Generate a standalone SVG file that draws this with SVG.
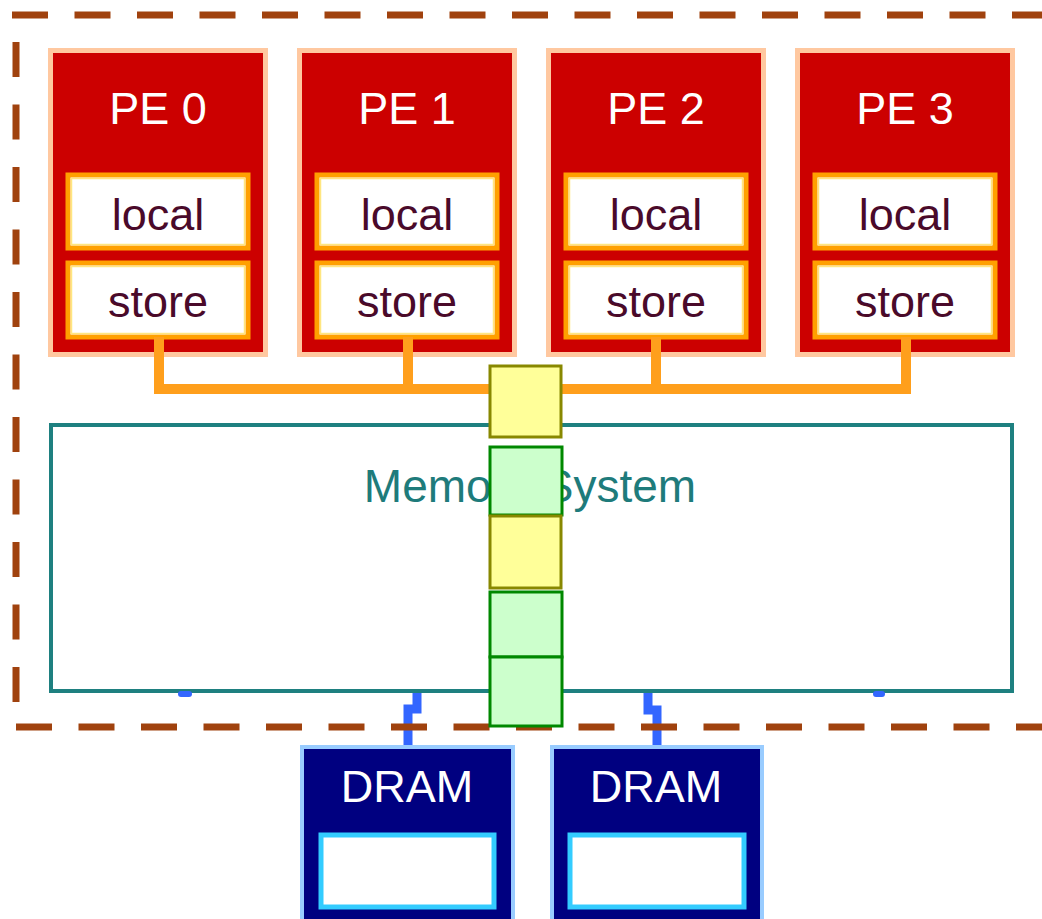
<svg xmlns="http://www.w3.org/2000/svg" width="1042" height="919" viewBox="0 0 1042 919">
<style>
.pe{fill:#CC0000;stroke:#FFC8A0;stroke-width:5}
.pet{font-family:"Liberation Sans",Arial,sans-serif;font-size:45px;fill:#FFFFFF;text-anchor:middle}
.ls{fill:#FFFFFF;stroke:#FFA000;stroke-width:5}
.lsi{fill:none;stroke:#FFE680;stroke-width:1.5}
.lst{font-family:"Liberation Sans",Arial,sans-serif;font-size:45px;fill:#4A0A2A;text-anchor:middle}
.dram{fill:#000080;stroke:#99CCFF;stroke-width:4}
.dramt{font-family:"Liberation Sans",Arial,sans-serif;font-size:45px;fill:#FFFFFF;text-anchor:middle}
.dramin{fill:#FFFFFF;stroke:#33CCFF;stroke-width:5}
.dash{fill:none;stroke:#A0420E;stroke-width:7;stroke-dasharray:36 26.5}
.orange{fill:none;stroke:#FF9F1C;stroke-width:10;stroke-linejoin:miter}
.blue{fill:none;stroke:#3366FF;stroke-width:9}
.yel{fill:#FFFF99;stroke:#888800;stroke-width:3}
.grn{fill:#CCFFCC;stroke:#008800;stroke-width:3}
</style>
<rect width="1042" height="919" fill="#FFFFFF"/>
<g id="pe0">
<rect class="pe" x="50.5" y="50.5" width="215" height="304"/>
<text class="pet" x="158" y="124">PE 0</text>
<rect class="ls" x="68" y="175" width="180" height="73"/><rect class="lsi" x="71.5" y="178.5" width="173" height="66"/>
<text class="lst" x="158" y="230">local</text>
<rect class="ls" x="68" y="263" width="180" height="74"/><rect class="lsi" x="71.5" y="266.5" width="173" height="67"/>
<text class="lst" x="158" y="317">store</text>
</g>
<g id="pe1">
<rect class="pe" x="299.5" y="50.5" width="215" height="304"/>
<text class="pet" x="407" y="124">PE 1</text>
<rect class="ls" x="317" y="175" width="180" height="73"/><rect class="lsi" x="320.5" y="178.5" width="173" height="66"/>
<text class="lst" x="407" y="230">local</text>
<rect class="ls" x="317" y="263" width="180" height="74"/><rect class="lsi" x="320.5" y="266.5" width="173" height="67"/>
<text class="lst" x="407" y="317">store</text>
</g>
<g id="pe2">
<rect class="pe" x="548.5" y="50.5" width="215" height="304"/>
<text class="pet" x="656" y="124">PE 2</text>
<rect class="ls" x="566" y="175" width="180" height="73"/><rect class="lsi" x="569.5" y="178.5" width="173" height="66"/>
<text class="lst" x="656" y="230">local</text>
<rect class="ls" x="566" y="263" width="180" height="74"/><rect class="lsi" x="569.5" y="266.5" width="173" height="67"/>
<text class="lst" x="656" y="317">store</text>
</g>
<g id="pe3">
<rect class="pe" x="797.5" y="50.5" width="215" height="304"/>
<text class="pet" x="905" y="124">PE 3</text>
<rect class="ls" x="815" y="175" width="180" height="73"/><rect class="lsi" x="818.5" y="178.5" width="173" height="66"/>
<text class="lst" x="905" y="230">local</text>
<rect class="ls" x="815" y="263" width="180" height="74"/><rect class="lsi" x="818.5" y="266.5" width="173" height="67"/>
<text class="lst" x="905" y="317">store</text>
</g>
<g id="memory">
<rect x="51" y="425" width="961" height="266" fill="#FFFFFF" stroke="#1E8080" stroke-width="4"/>
<text x="530" y="502" font-family="'Liberation Sans',Arial,sans-serif" font-size="46" fill="#1E7B7B" text-anchor="middle">Memory System</text>
</g>
<g id="dram0">
<rect class="dram" x="302" y="747" width="211" height="190"/>
<text class="dramt" x="407" y="802">DRAM</text>
<rect class="dramin" x="321" y="835" width="173" height="72"/>
</g>
<g id="dram1">
<rect class="dram" x="552" y="747" width="210" height="190"/>
<text class="dramt" x="656" y="802">DRAM</text>
<rect class="dramin" x="570" y="835" width="174" height="72"/>
</g>
<g id="connectors">
<path class="orange" d="M159,337 V389 H906 V337 M408,337 V389 M656,337 V389"/>
<path class="blue" d="M417,693 V709 H408 V745"/>
<path class="blue" d="M648,693 V710 H657 V745"/>
<rect x="178" y="691" width="14" height="6" rx="3" fill="#3366FF"/>
<rect x="873" y="691" width="12" height="6" rx="3" fill="#3366FF"/>
</g>
<g id="boundary">
<path class="dash" d="M12,15 H1042"/>
<path class="dash" d="M16,42 V727" style="stroke-dasharray:35 27.5"/>
<path class="dash" d="M16,727 H1042"/>
</g>
<g id="queue">
<rect class="yel" x="490" y="366" width="71" height="71"/>
<rect class="grn" x="490" y="447" width="72" height="68"/>
<rect class="yel" x="490" y="516" width="71" height="72"/>
<rect class="grn" x="490" y="592" width="72" height="65"/>
<rect class="grn" x="490" y="657" width="72" height="69"/>
</g>
</svg>
